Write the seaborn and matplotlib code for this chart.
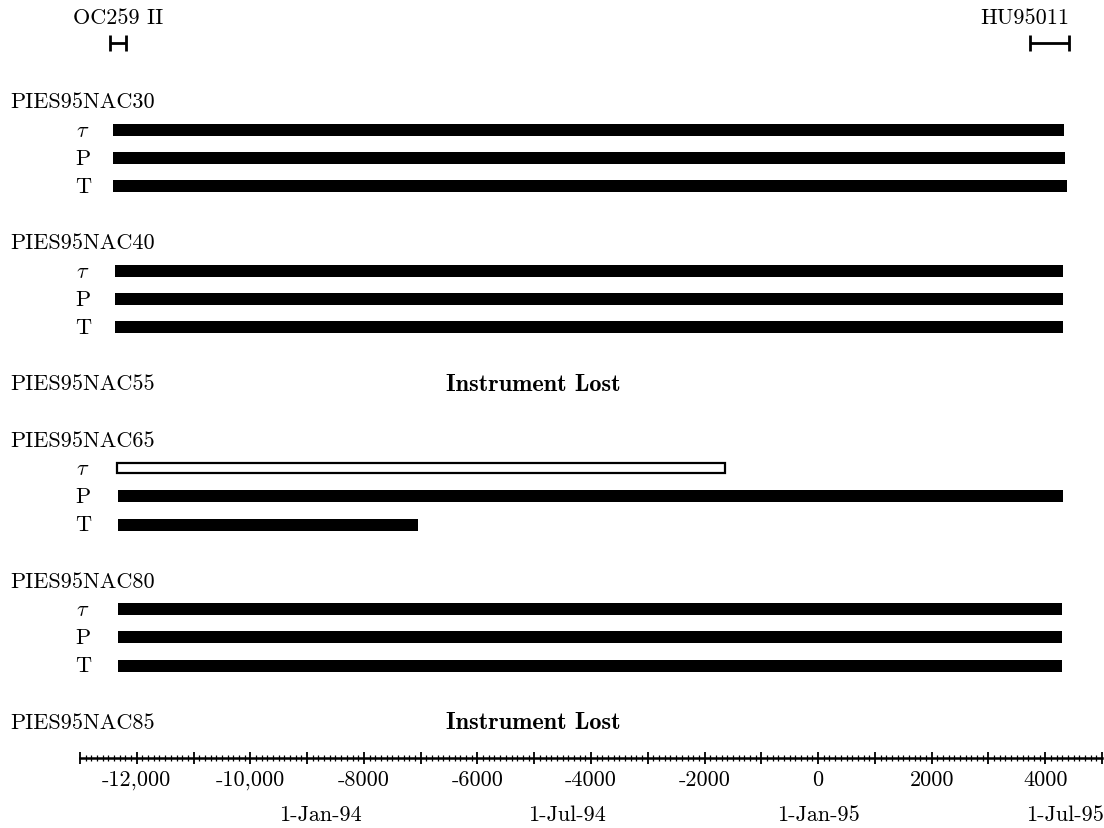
import numpy as np
import matplotlib
matplotlib.use("Agg")
import matplotlib.pyplot as plt
from matplotlib.ticker import MultipleLocator
import seaborn as sns

# ---------------- data ----------------
instruments = ["PIES95NAC30", "PIES95NAC40", "PIES95NAC55",
               "PIES95NAC65", "PIES95NAC80", "PIES95NAC85"]
variables = [r"$\tau$", "P", "T"]

nac30_start = [-12416, -12416, -12416]
nac30_end = [4333, 4350, 4385]
nac40_start = [-12381, -12381, -12381]
nac40_end = [4315, 4315, 4315]
nac65_start = [-12346, -12328, -12328]
nac65_end = [-1638, 4315, -7045]
nac65_filled = [False, True, True]
nac80_start = [-12328, -12328, -12328]
nac80_end = [4297, 4297, 4297]

cruise_names = ["OC259 II", "HU95011"]
cruise_start = [-12468, 3734]
cruise_end = [-12187, 4421]

tick_values = [-12000, -10000, -8000, -6000, -4000, -2000, 0, 2000, 4000]
tick_labels = ["-12,000", "-10,000", "-8000", "-6000", "-4000", "-2000", "0", "2000", "4000"]
date_values = [-8760, -4416, 0, 4344]
date_labels = ["1-Jan-94", "1-Jul-94", "1-Jan-95", "1-Jul-95"]

lost_text = "Instrument Lost"

# ---------------- style ----------------
sns.set_theme(style="white")
plt.rcParams["font.family"] = ["cmr10", "DejaVu Serif"]
plt.rcParams["mathtext.fontset"] = "cm"
plt.rcParams["axes.unicode_minus"] = False
plt.rcParams["axes.formatter.use_mathtext"] = True
plt.rcParams["text.color"] = "black"
plt.rcParams["xtick.color"] = "black"
plt.rcParams["xtick.labelcolor"] = "black"

W, H = 1104, 829
fig = plt.figure(figsize=(W / 100, H / 100), dpi=100)
ax_left, ax_right = 80 / W, 1102 / W
ax_bottom = (H - 759) / H
ax = fig.add_axes([ax_left, ax_bottom, ax_right - ax_left, 1 - ax_bottom])

row_px = 28.2
top_px = 18.0
ax.set_xlim(-13000, 5000)
ax.set_ylim((759 - top_px) / row_px, -top_px / row_px)

FS = 16
FS_BOLD = 17.5
blend_lbl = matplotlib.transforms.blended_transform_factory(fig.transFigure, ax.transData)

# groups: (label row, starts, ends, filled)
groups = [
    (3, nac30_start, nac30_end, [True] * 3),
    (8, nac40_start, nac40_end, [True] * 3),
    (13, None, None, None),
    (15, nac65_start, nac65_end, nac65_filled),
    (20, nac80_start, nac80_end, [True] * 3),
    (25, None, None, None),
]

for name, (row, starts, ends, filled) in zip(instruments, groups):
    ax.text(10 / W, row, name, transform=blend_lbl, ha="left", va="center",
            fontsize=FS, color="black", clip_on=False)
    if starts is None:
        ax.text(533 / W, row, lost_text, transform=blend_lbl, ha="center", va="center",
                fontsize=FS_BOLD, family="cmb10", color="black", clip_on=False)
        continue
    for i, (var, s, e, f) in enumerate(zip(variables, starts, ends, filled)):
        y = row + 1 + i
        ax.text(83 / W, y, var, transform=blend_lbl, ha="center", va="center",
                fontsize=FS, color="black", clip_on=False)
        if f:
            ax.barh(y, e - s, left=s, height=0.43, color="black", edgecolor="none")
        else:
            ax.barh(y, e - s, left=s, height=0.36, color="white",
                    edgecolor="black", linewidth=1.6)

# cruises
for nm, s, e, ha in zip(cruise_names, cruise_start, cruise_end, ["center", "right"]):
    c = (s + e) / 2
    ax.errorbar([c], [0.92], xerr=[[c - s], [e - c]], fmt="none", ecolor="black",
                elinewidth=2, capsize=6, capthick=2, clip_on=False)
    xt = c if ha == "center" else e
    ax.text(xt, 0, nm, ha=ha, va="center", fontsize=FS, color="black", clip_on=False)

# axis
for sp in ["top", "left", "right"]:
    ax.spines[sp].set_visible(False)
ax.spines["bottom"].set_linewidth(1.8)
ax.spines["bottom"].set_color("black")
majors = np.arange(-13000, 5001, 1000)
lab_map = dict(zip(tick_values, tick_labels))
ax.set_xticks(majors)
ax.set_xticklabels([lab_map.get(int(v), "") for v in majors], fontsize=FS, color="black")
ax.xaxis.set_minor_locator(MultipleLocator(100))
ax.tick_params(axis="x", which="major", direction="inout", length=8, width=1.3,
               color="black", pad=4, bottom=True)
ax.tick_params(axis="x", which="minor", direction="inout", length=4.5, width=0.9,
               color="black", bottom=True)
ax.set_yticks([])
ax.grid(False)

blend_date = matplotlib.transforms.blended_transform_factory(ax.transData, fig.transFigure)
for v, lbl in zip(date_values, date_labels):
    ax.text(v, (H - 815) / H, lbl, transform=blend_date, ha="center", va="center",
            fontsize=FS, color="black", clip_on=False)

fig.savefig("out.png", dpi=100)
